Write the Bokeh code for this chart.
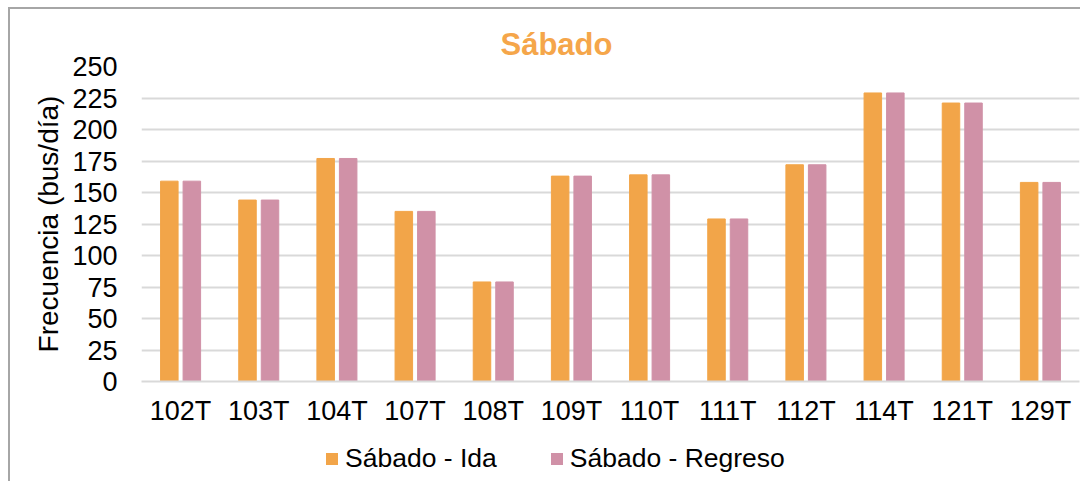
from bokeh.plotting import figure
from bokeh.models import ColumnDataSource, FactorRange, Legend, LegendItem, Range1d, FixedTicker
from bokeh.layouts import column
from bokeh.transform import dodge
from bokeh.embed import file_html
from bokeh.resources import INLINE

categories = ["102T", "103T", "104T", "107T", "108T", "109T", "110T", "111T", "112T", "114T", "121T", "129T"]
ida = [159, 144, 177, 135, 79, 163, 164, 129, 172, 229, 221, 158]
regreso = [159, 144, 177, 135, 79, 163, 164, 129, 172, 229, 221, 158]
y_ticks = [0, 25, 50, 75, 100, 125, 150, 175, 200, 225, 250]
series_labels = ["Sábado - Ida", "Sábado - Regreso"]

FONT = "Liberation Sans"
ORANGE = "#F2A549"
PINK = "#D091A7"

source = ColumnDataSource(dict(cat=categories, ida=ida, regreso=regreso))

p = figure(x_range=FactorRange(factors=categories), y_range=Range1d(0, 250),
           width=1070, height=430, output_backend="svg", toolbar_location=None,
           min_border_left=131, min_border_right=1, min_border_top=57, min_border_bottom=58)
p.outline_line_color = None

p.vbar(x=dodge("cat", -0.144, range=p.x_range), top="ida", width=0.224, source=source,
       fill_color=ORANGE, line_color=ORANGE, line_width=1)
p.vbar(x=dodge("cat", 0.144, range=p.x_range), top="regreso", width=0.224, source=source,
       fill_color=PINK, line_color=PINK, line_width=1)

p.title.text = "Sábado"
p.title.align = "left"
p.title.offset = 359
p.title.text_font = FONT
p.title.text_font_size = "31px"
p.title.text_font_style = "bold"
p.title.text_color = "#F5A64A"
p.title.standoff = 9

p.yaxis.ticker = FixedTicker(ticks=y_ticks)
p.yaxis.axis_label = "Frecuencia (bus/día)"
p.yaxis.axis_label_text_font = FONT
p.yaxis.axis_label_text_font_size = "28px"
p.yaxis.axis_label_text_font_style = "normal"
p.yaxis.axis_label_text_color = "#000000"
p.yaxis.axis_label_standoff = 5
p.yaxis.major_label_text_font = FONT
p.yaxis.major_label_text_font_size = "27px"
p.yaxis.major_label_text_color = "#000000"
p.yaxis.major_label_standoff = 18
p.yaxis.axis_line_color = None
p.yaxis.major_tick_line_color = None
p.yaxis.minor_tick_line_color = None

p.xaxis.major_label_text_font = FONT
p.xaxis.major_label_text_font_size = "27px"
p.xaxis.major_label_text_color = "#000000"
p.xaxis.major_label_standoff = 8
p.xaxis.axis_line_color = "#D9D9D9"
p.xaxis.axis_line_width = 2
p.xaxis.major_tick_line_color = None
p.xaxis.minor_tick_line_color = None

p.xgrid.grid_line_color = None
p.ygrid.grid_line_color = "#D9D9D9"
p.ygrid.grid_line_width = 2

# legend strip below the chart (its bars lie outside its visible y range)
p2 = figure(x_range=p.x_range, y_range=Range1d(1000, 1001),
            width=1070, height=42, output_backend="svg", toolbar_location=None,
            x_axis_location=None, y_axis_location=None,
            min_border_left=131, min_border_right=1, min_border_top=0, min_border_bottom=0)
p2.outline_line_color = None
p2.grid.grid_line_color = None
lr1 = p2.vbar(x=dodge("cat", -0.144, range=p.x_range), top="ida", width=0.224, source=source,
              fill_color=ORANGE, line_color=None)
lr2 = p2.vbar(x=dodge("cat", 0.144, range=p.x_range), top="regreso", width=0.224, source=source,
              fill_color=PINK, line_color=None)

legend = Legend(items=[LegendItem(label=series_labels[0], renderers=[lr1]),
                       LegendItem(label=series_labels[1], renderers=[lr2])],
                orientation="horizontal", location=(183, 7),
                label_text_font=FONT, label_text_font_size="26.5px", label_text_color="#000000",
                glyph_width=15, glyph_height=15, label_standoff=6, spacing=52,
                padding=0, margin=0, border_line_color=None, background_fill_alpha=0)
p2.add_layout(legend, "center")

layout = column(p, p2, spacing=0)
layout.styles = {"border-left": "2px solid #A6A6A6", "border-top": "2px solid #A6A6A6",
                 "margin-left": "8px", "margin-top": "7px"}

open("out.html", "w").write(file_html(layout, INLINE))
